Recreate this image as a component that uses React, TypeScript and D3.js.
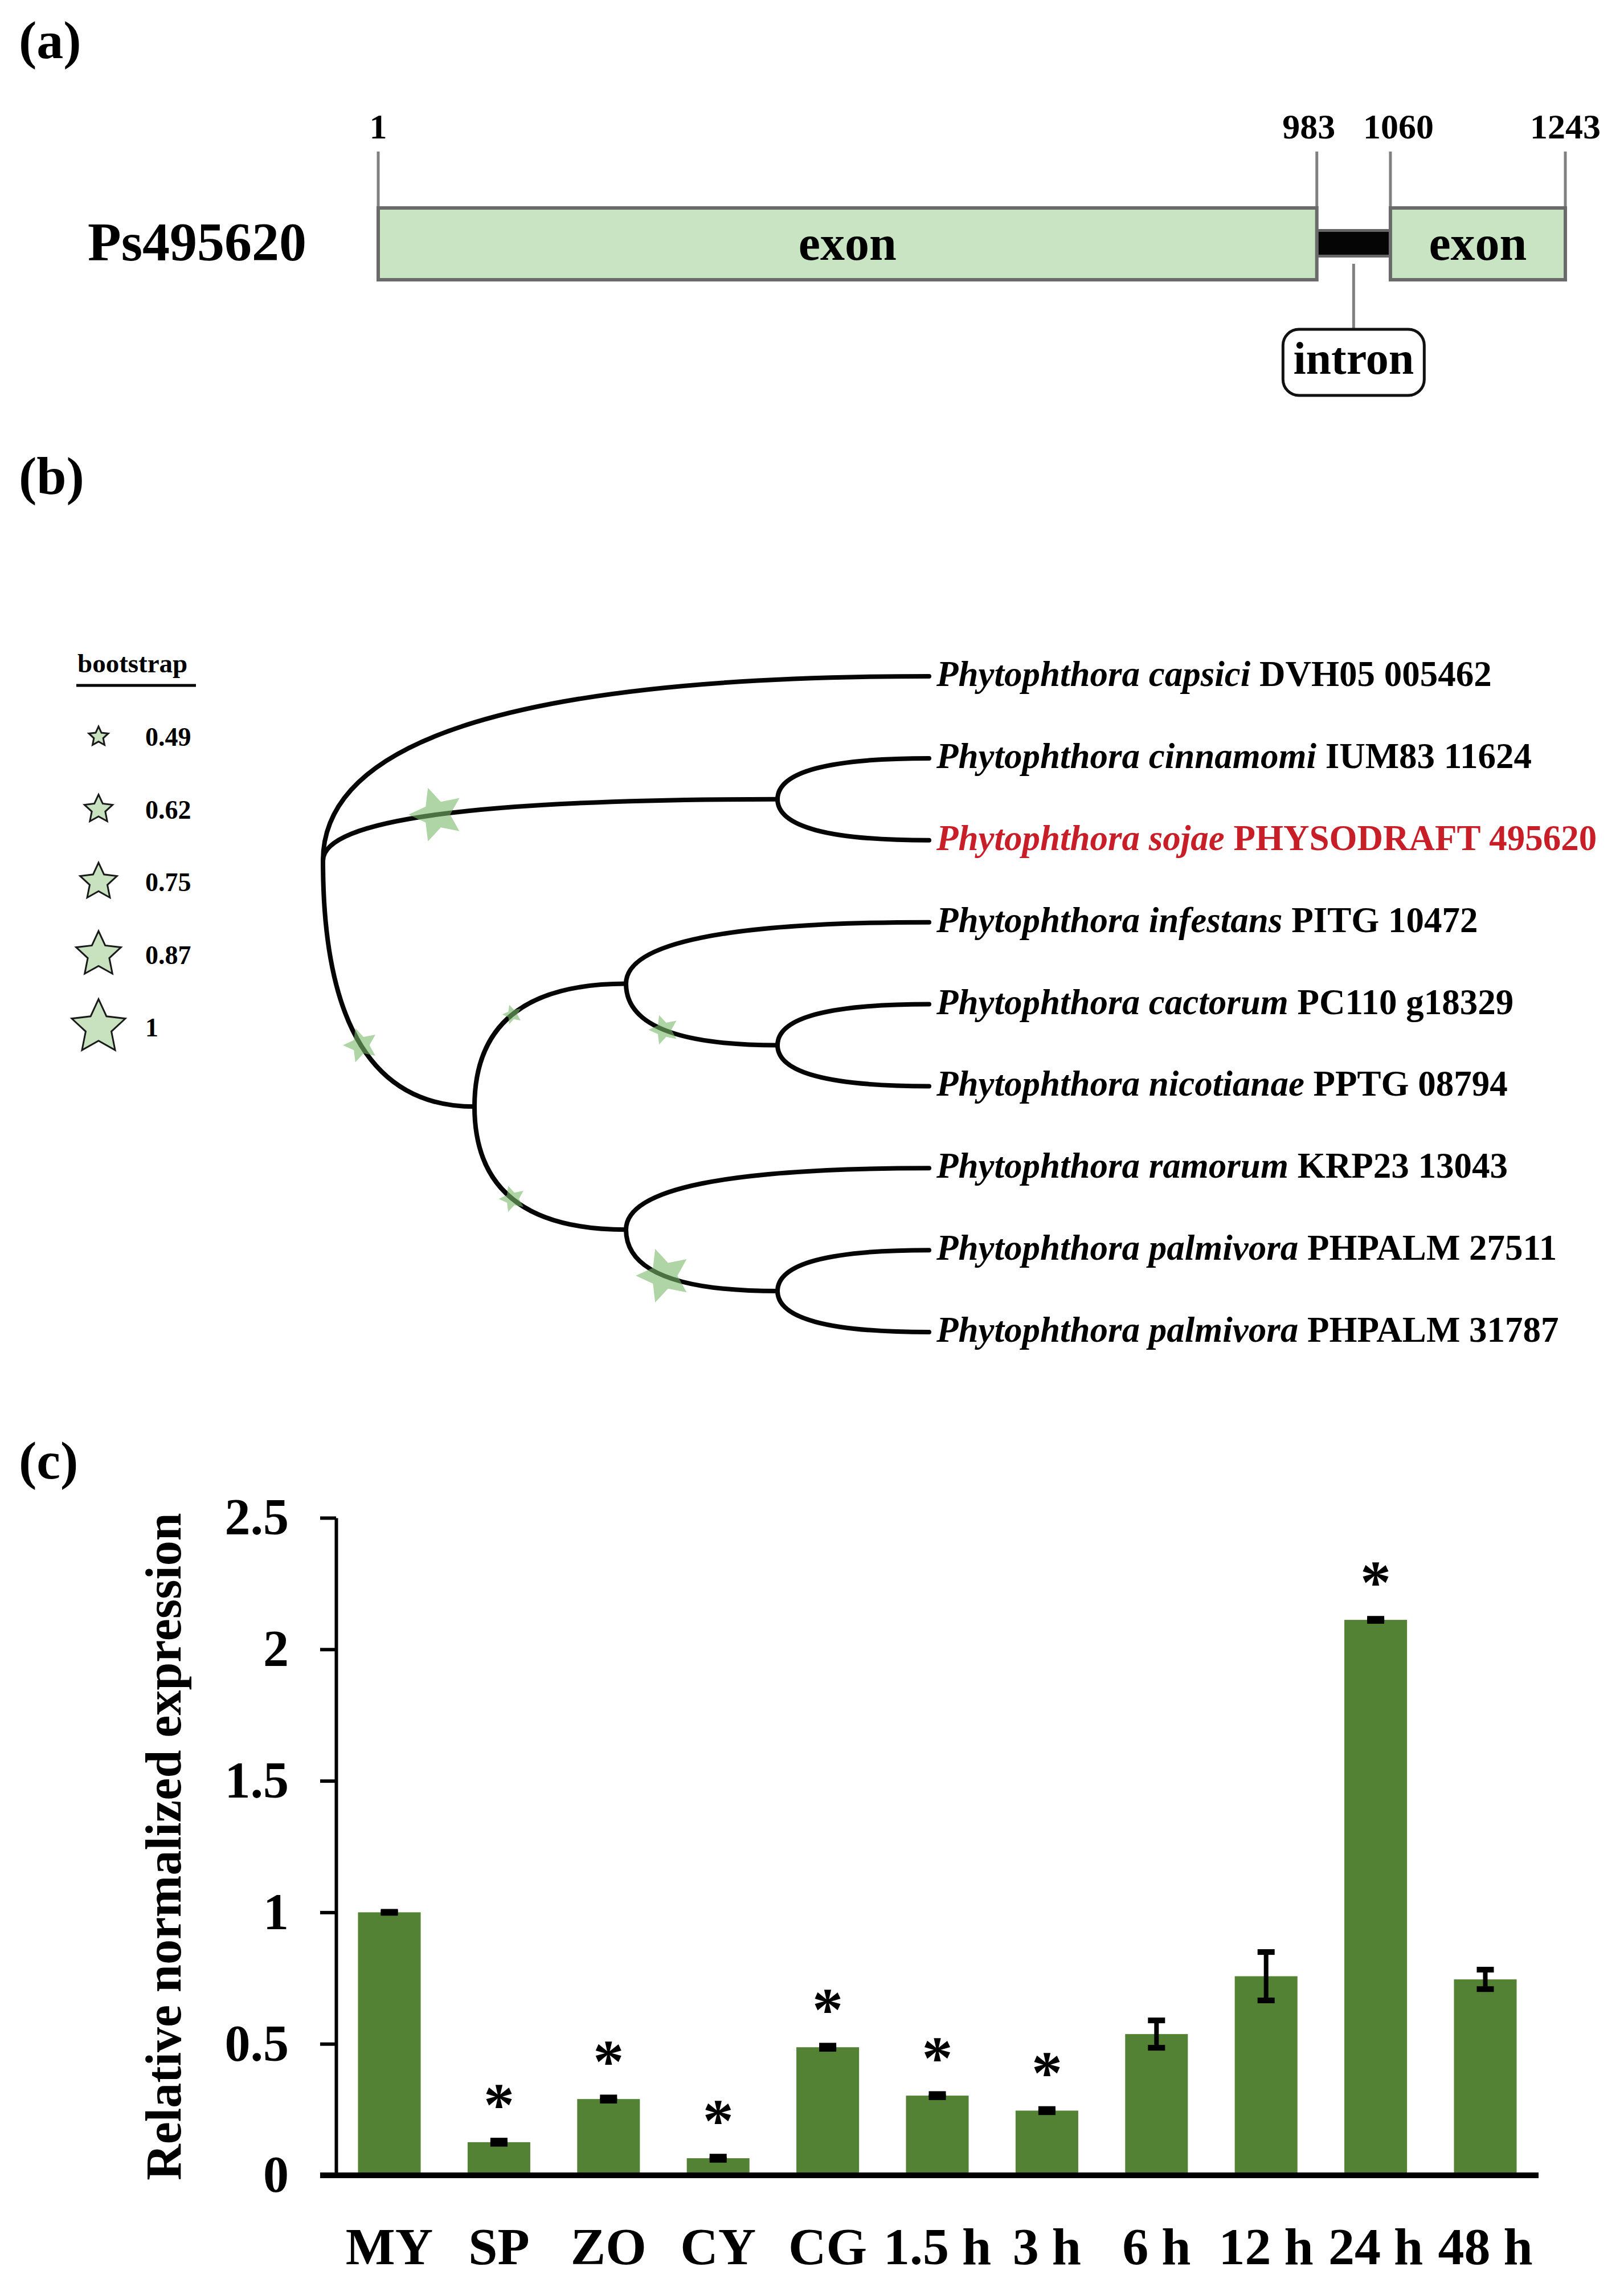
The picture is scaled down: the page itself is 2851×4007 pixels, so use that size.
import React, { useRef, useEffect } from "react";
import * as d3 from "d3";

const WIDTH = 2851;
const HEIGHT = 4007;
const FONT = "'Liberation Serif','Times New Roman',Times,serif";

// (a) gene structure
const geneName = "Ps495620";
const geneLength = 1243;
const exonSpans: [number, number][] = [
  [1, 983],
  [1060, 1243],
];
const intronSpans: [number, number][] = [[983, 1060]];
const positionMarks = [1, 983, 1060, 1243];

// (b) phylogenetic tree
const leafSpecies = [
  "capsici",
  "cinnamomi",
  "sojae",
  "infestans",
  "cactorum",
  "nicotianae",
  "ramorum",
  "palmivora",
  "palmivora",
];
const leafIds = [
  "DVH05 005462",
  "IUM83 11624",
  "PHYSODRAFT 495620",
  "PITG 10472",
  "PC110 g18329",
  "PPTG 08794",
  "KRP23 13043",
  "PHPALM 27511",
  "PHPALM 31787",
];
const highlightedLeaf = 2;
const legendSupport = [0.49, 0.62, 0.75, 0.87, 1];

type TreeNode = { leaf?: number; support?: number; children?: TreeNode[] };
function tip(i: number): TreeNode {
  return { leaf: i };
}
function clade(support: number | undefined, ...children: TreeNode[]): TreeNode {
  return { support, children };
}
const treeTopology = clade(
  undefined,
  tip(0),
  clade(1, tip(1), tip(2)),
  clade(
    0.71,
    clade(0.49, tip(3), clade(0.64, tip(4), tip(5))),
    clade(0.59, tip(6), clade(1, tip(7), tip(8)))
  )
);

// (c) relative expression
const stages = ["MY", "SP", "ZO", "CY", "CG", "1.5 h", "3 h", "6 h", "12 h", "24 h", "48 h"];
const expression = [1.0, 0.126, 0.29, 0.065, 0.487, 0.303, 0.246, 0.537, 0.757, 2.112, 0.745];
const expressionErr = [0.002, 0.006, 0.006, 0.006, 0.006, 0.006, 0.006, 0.052, 0.092, 0.004, 0.037];
const significant = [false, true, true, true, true, true, true, false, false, true, false];
const yTicks = [0, 0.5, 1, 1.5, 2, 2.5];

// five-pointed star, size = outer radius squared
const starInner = 0.48;
const starType = {
  draw(context: any, size: number) {
    const r = Math.sqrt(size);
    for (let i = 0; i < 10; i++) {
      const a = -Math.PI / 2 + (i * Math.PI) / 5;
      const rr = i % 2 === 0 ? r : r * starInner;
      const x = rr * Math.cos(a);
      const y = rr * Math.sin(a);
      if (i === 0) context.moveTo(x, y);
      else context.lineTo(x, y);
    }
    context.closePath();
  },
};

const App: React.FC = () => {
  const svgRef = useRef<SVGSVGElement | null>(null);

  useEffect(() => {
    if (!svgRef.current) return;
    const svg = d3.select(svgRef.current);
    svg.selectAll("*").remove();

    svg.append("rect").attr("width", WIDTH).attr("height", HEIGHT).attr("fill", "#fff");

    // Panel letters
    const letters = [
      { t: "(a)", y: 102 },
      { t: "(b)", y: 867 },
      { t: "(c)", y: 2595 },
    ];
    svg
      .selectAll(".panel-letter")
      .data(letters)
      .join("text")
      .attr("x", 33)
      .attr("y", (d) => d.y)
      .attr("font-size", 94)
      .attr("font-weight", "bold")
      .attr("font-family", FONT)
      .text((d) => d.t);

    // ---------------- (a) gene model ----------------
    const gx = d3.scaleLinear().domain([1, geneLength]).range([664, 2748]);
    const geneTop = 365;
    const geneBottom = 491;
    const ga = svg.append("g").attr("class", "gene");

    ga.selectAll(".mark-line")
      .data(positionMarks)
      .join("line")
      .attr("x1", (d) => gx(d))
      .attr("x2", (d) => gx(d))
      .attr("y1", 266)
      .attr("y2", geneTop)
      .attr("stroke", "#808080")
      .attr("stroke-width", 5);

    // labels of the two close marks are pushed apart a little
    ga.selectAll(".mark-text")
      .data(positionMarks)
      .join("text")
      .attr("x", (d, i) => {
        const prev = positionMarks[i - 1];
        const next = positionMarks[i + 1];
        if (next !== undefined && gx(next) - gx(d) < 200) return gx(d) - 14;
        if (prev !== undefined && gx(d) - gx(prev) < 200) return gx(d) + 14;
        return gx(d);
      })
      .attr("y", 243)
      .attr("text-anchor", "middle")
      .attr("font-size", 62)
      .attr("font-weight", "bold")
      .attr("font-family", FONT)
      .text((d) => d);

    ga.selectAll(".intron")
      .data(intronSpans)
      .join("rect")
      .attr("x", (d) => gx(d[0]))
      .attr("y", 404.5)
      .attr("width", (d) => gx(d[1]) - gx(d[0]))
      .attr("height", 45)
      .attr("fill", "#050505")
      .attr("stroke", "#666")
      .attr("stroke-width", 5);

    ga.selectAll(".exon")
      .data(exonSpans)
      .join("rect")
      .attr("x", (d) => gx(d[0]))
      .attr("y", geneTop)
      .attr("width", (d) => gx(d[1]) - gx(d[0]))
      .attr("height", geneBottom - geneTop)
      .attr("fill", "#c9e4c3")
      .attr("stroke", "#6a6a6a")
      .attr("stroke-width", 6);

    ga.selectAll(".exon-label")
      .data(exonSpans)
      .join("text")
      .attr("x", (d) => (gx(d[0]) + gx(d[1])) / 2)
      .attr("y", 456)
      .attr("text-anchor", "middle")
      .attr("font-size", 86)
      .attr("font-weight", "bold")
      .attr("font-family", FONT)
      .text("exon");

    ga.append("text")
      .attr("x", 154)
      .attr("y", 457)
      .attr("font-size", 96)
      .attr("font-weight", "bold")
      .attr("font-family", FONT)
      .text(geneName);

    const callout = ga
      .selectAll(".callout")
      .data(intronSpans)
      .join("g")
      .attr("transform", (d) => `translate(${gx((d[0] + d[1]) / 2)},0)`);
    callout
      .append("line")
      .attr("y1", 463)
      .attr("y2", 578)
      .attr("stroke", "#808080")
      .attr("stroke-width", 5);
    callout
      .append("rect")
      .attr("x", -124)
      .attr("y", 578)
      .attr("width", 248)
      .attr("height", 116)
      .attr("rx", 28)
      .attr("fill", "#fff")
      .attr("stroke", "#111")
      .attr("stroke-width", 5);
    callout
      .append("text")
      .attr("y", 656)
      .attr("text-anchor", "middle")
      .attr("font-size", 80)
      .attr("font-weight", "bold")
      .attr("font-family", FONT)
      .text("intron");

    // ---------------- (b) tree ----------------
    const leafTop = 1187;
    const leafBottom = 2338;
    const rootX = 567;
    const tipX = 1631;
    const spacing = (leafBottom - leafTop) / (leafSpecies.length - 1);
    const root = d3.hierarchy<TreeNode>(treeTopology, (d) => d.children);
    d3
      .cluster<TreeNode>()
      .size([spacing * leafSpecies.length, tipX - rootX])
      .separation(() => 1)(root);
    const nx = (n: any) => rootX + n.y;
    const ny = (n: any) => leafTop - spacing / 2 + n.x;

    const gt = svg.append("g").attr("class", "tree");
    const links = root.links();
    gt.selectAll(".edge")
      .data(links)
      .join("path")
      .attr("d", (l) => {
        const p = d3.path();
        p.moveTo(nx(l.source), ny(l.source));
        p.quadraticCurveTo(nx(l.source), ny(l.target), nx(l.target), ny(l.target));
        return p.toString();
      })
      .attr("fill", "none")
      .attr("stroke", "#050505")
      .attr("stroke-width", 8)
      .attr("stroke-linecap", "round");

    const starWidth = d3.scaleLinear().domain([0.49, 1]).range([34, 94]);
    const starPath = (v: number) => {
      const r = starWidth(v) / (2 * Math.sin((2 * Math.PI) / 5));
      return d3.symbol().type(starType as any).size(r * r)()!;
    };

    gt.selectAll(".support")
      .data(links.filter((l) => l.target.data.support != null))
      .join("path")
      .attr("transform", (l) => {
        const x = nx(l.source) + 0.25 * (nx(l.target) - nx(l.source));
        const y = ny(l.source) + 0.75 * (ny(l.target) - ny(l.source));
        return `translate(${x},${y}) rotate(-90)`;
      })
      .attr("d", (l) => starPath(l.target.data.support!))
      .attr("fill", "#7ab769")
      .attr("fill-opacity", 0.6);

    const labels = gt
      .selectAll(".tip-label")
      .data(root.leaves())
      .join("text")
      .attr("x", tipX + 13)
      .attr("y", (d) => ny(d))
      .attr("dy", "0.27em")
      .attr("font-size", 63)
      .attr("font-weight", "bold")
      .attr("font-family", FONT)
      .attr("fill", (d) => (d.data.leaf === highlightedLeaf ? "#c81e28" : "#000"));
    labels
      .append("tspan")
      .attr("font-style", "italic")
      .text((d) => `Phytophthora ${leafSpecies[d.data.leaf!]}`);
    labels.append("tspan").text((d) => ` ${leafIds[d.data.leaf!]}`);

    // legend
    const gl = svg.append("g").attr("class", "legend");
    gl.append("text")
      .attr("x", 136)
      .attr("y", 1180)
      .attr("font-size", 47)
      .attr("font-weight", "bold")
      .attr("font-family", FONT)
      .text("bootstrap");
    gl.append("line")
      .attr("x1", 134)
      .attr("x2", 344)
      .attr("y1", 1203)
      .attr("y2", 1203)
      .attr("stroke", "#000")
      .attr("stroke-width", 5);
    const ly = d3.scalePoint<number>().domain(legendSupport).range([1293, 1803]);
    gl.selectAll(".legend-star")
      .data(legendSupport)
      .join("path")
      .attr("transform", (d) => `translate(173,${ly(d)})`)
      .attr("d", (d) => starPath(d))
      .attr("fill", "#c8e2c0")
      .attr("stroke", "#1a1a1a")
      .attr("stroke-width", 3)
      .attr("stroke-linejoin", "miter");
    gl.selectAll(".legend-text")
      .data(legendSupport)
      .join("text")
      .attr("x", 255)
      .attr("y", (d) => ly(d)! + 16)
      .attr("font-size", 46)
      .attr("font-weight", "bold")
      .attr("font-family", FONT)
      .text((d) => String(d));

    // ---------------- (c) bar chart ----------------
    const axisX = 590;
    const x = d3.scaleBand().domain(stages).range([axisX, 2701]).paddingInner(0.428).paddingOuter(0.2);
    const y = d3.scaleLinear().domain([0, 2.5]).range([3818, 2664]);
    const rows = stages.map((s, i) => ({
      stage: s,
      value: expression[i],
      err: expressionErr[i],
      sig: significant[i],
    }));
    const gc = svg.append("g").attr("class", "bars");

    gc.selectAll(".bar")
      .data(rows)
      .join("rect")
      .attr("x", (d) => x(d.stage)!)
      .attr("y", (d) => y(d.value))
      .attr("width", x.bandwidth())
      .attr("height", (d) => y(0) - y(d.value))
      .attr("fill", "#548235");

    const eb = gc
      .selectAll(".err")
      .data(rows)
      .join("g")
      .attr("transform", (d) => `translate(${x(d.stage)! + x.bandwidth() / 2},0)`);
    eb.append("line")
      .attr("y1", (d) => y(d.value + d.err))
      .attr("y2", (d) => y(d.value - d.err))
      .attr("stroke", "#000")
      .attr("stroke-width", 8);
    eb.selectAll(".cap")
      .data((d) => [d.value + d.err, d.value - d.err])
      .join("line")
      .attr("x1", -15)
      .attr("x2", 15)
      .attr("y1", (v) => y(v))
      .attr("y2", (v) => y(v))
      .attr("stroke", "#000")
      .attr("stroke-width", 10);

    gc.selectAll(".star-mark")
      .data(rows.filter((d) => d.sig))
      .join("text")
      .attr("x", (d) => x(d.stage)! + x.bandwidth() / 2)
      .attr("y", (d) => y(d.value) - 29)
      .attr("text-anchor", "middle")
      .attr("font-size", 108)
      .attr("font-weight", "bold")
      .attr("font-family", FONT)
      .text("*");

    const yAxis = svg
      .append("g")
      .attr("transform", `translate(${axisX},0)`)
      .call(
        d3
          .axisLeft(y)
          .tickValues(yTicks)
          .tickSize(28)
          .tickSizeOuter(0)
          .tickPadding(55)
          .tickFormat(d3.format("~g") as any)
      );
    yAxis.select(".domain").attr("stroke", "#000").attr("stroke-width", 6);
    yAxis.selectAll(".tick line").attr("stroke", "#000").attr("stroke-width", 6);
    yAxis
      .selectAll(".tick text")
      .attr("fill", "#000")
      .attr("font-size", 90)
      .attr("font-weight", "bold")
      .attr("font-family", FONT);

    const xAxis = svg
      .append("g")
      .attr("transform", `translate(0,${y(0)})`)
      .call(d3.axisBottom(x).tickSize(0).tickPadding(91));
    xAxis.select(".domain").remove();
    xAxis
      .selectAll(".tick text")
      .attr("fill", "#000")
      .attr("font-size", 92)
      .attr("font-weight", "bold")
      .attr("font-family", FONT);
    svg
      .append("line")
      .attr("x1", axisX - 28)
      .attr("x2", x.range()[1])
      .attr("y1", y(0))
      .attr("y2", y(0))
      .attr("stroke", "#000")
      .attr("stroke-width", 10);

    svg
      .append("text")
      .attr("transform", `translate(317,${(y(0) + y(2.5)) / 2}) rotate(-90)`)
      .attr("text-anchor", "middle")
      .attr("font-size", 88)
      .attr("font-weight", "bold")
      .attr("font-family", FONT)
      .text("Relative normalized expression");

    return () => {
      svg.selectAll("*").remove();
    };
  }, []);

  return (
    <svg
      ref={svgRef}
      width={WIDTH}
      height={HEIGHT}
      style={{ position: "absolute", left: 0, top: 0, display: "block" }}
    />
  );
};

export default App;
